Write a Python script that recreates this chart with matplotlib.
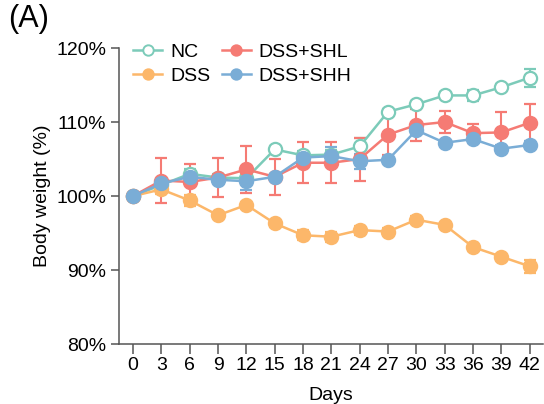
import numpy as np
import matplotlib
matplotlib.use('Agg')
import matplotlib.pyplot as plt
from matplotlib.lines import Line2D

plt.rcParams['font.family'] = ['Liberation Sans', 'DejaVu Sans']

days = [0, 3, 6, 9, 12, 15, 18, 21, 24, 27, 30, 33, 36, 39, 42]

nc = [100, 101.5, 103.0, 102.5, 102.4, 106.3, 105.5, 105.6, 106.7, 111.4, 112.4, 113.6, 113.6, 114.7, 116.0]
nc_err = [0, 0.5, 0.7, 0.5, 0.5, 0.5, 0.6, 0.6, 1.2, 0.4, 0.4, 0.4, 0.7, 0.5, 1.2]

dss = [100, 100.9, 99.4, 97.4, 98.8, 96.3, 94.7, 94.5, 95.4, 95.2, 96.8, 96.1, 93.1, 91.8, 90.5]
dss_err = [0, 0.6, 0.7, 0.3, 0.4, 0.5, 0.7, 0.7, 0.6, 0.5, 0.5, 0.3, 0.5, 0.3, 0.9]

shl = [100, 102.1, 101.9, 102.5, 103.6, 102.6, 104.5, 104.5, 105.0, 108.3, 109.6, 110.0, 108.5, 108.6, 109.9]
shl_err = [0, 3.0, 2.4, 2.6, 3.2, 2.4, 2.8, 2.8, 2.9, 2.8, 2.1, 1.5, 1.3, 2.8, 2.6]

shh = [100, 101.7, 102.6, 102.2, 102.0, 102.6, 105.2, 105.4, 104.7, 104.9, 108.9, 107.2, 107.7, 106.4, 106.9]
shh_err = [0, 0.5, 0.6, 0.5, 1.2, 0.4, 0.8, 1.2, 1.0, 0.4, 0.5, 0.4, 0.4, 0.5, 0.6]

groups = ['NC', 'DSS', 'DSS+SHL', 'DSS+SHH']
colors = ['#7ccbb9', '#fcb76a', '#f57b74', '#7aadd6']

fig = plt.figure(figsize=(5.44, 4.04), dpi=100)
ax = fig.add_axes([0.218, 0.1485, 0.78, 0.7325])

series = [(nc, nc_err), (dss, dss_err), (shl, shl_err), (shh, shh_err)]
handles = []
for (vals, errs), name, c in zip(series, groups, colors):
    face = 'white' if name == 'NC' else c
    ax.errorbar(days, vals, yerr=errs, color=c, lw=1.8, marker='o', ms=9.5,
                mfc=face, mec=c, mew=1.6, elinewidth=1.5, capsize=4.5,
                capthick=1.5)
    handles.append(Line2D([], [], color=c, lw=1.8, marker='o', ms=7.5,
                          mfc=face, mec=c, mew=1.4, label=name))

ax.set_xlim(-1.53, 43.4)
ax.set_ylim(80, 120)
ax.set_xticks(days)
ax.set_yticks([80, 90, 100, 110, 120])
ax.set_yticklabels(['80%', '90%', '100%', '110%', '120%'])
ax.set_xlabel('Days', fontsize=14, labelpad=-1)
ax.set_ylabel('Body weight (%)', fontsize=14, labelpad=4)

for s in ['top', 'right']:
    ax.spines[s].set_visible(False)
for s in ['left', 'bottom']:
    ax.spines[s].set_color('#555555')
    ax.spines[s].set_linewidth(1.1)
ax.tick_params(axis='both', colors='#555555', labelcolor='black', width=1.1, labelsize=14)
ax.tick_params(axis='y', length=6, pad=3)
ax.tick_params(axis='x', length=7, pad=2)
ax.xaxis.label.set_position((0.5, 0))
ax.xaxis.set_label_coords(0.5, -0.145)

fig.legend(handles=handles, ncol=2, loc='upper left',
           bbox_to_anchor=(133 / 544, 1 - 43 / 404), frameon=False,
           fontsize=14, handlelength=1.5, handletextpad=0.4, columnspacing=0.6,
           labelspacing=0.35, borderpad=0, borderaxespad=0)

fig.text(0.015, 0.99, '(A)', fontsize=22, va='top', ha='left')

fig.savefig('out.png', dpi=100)
